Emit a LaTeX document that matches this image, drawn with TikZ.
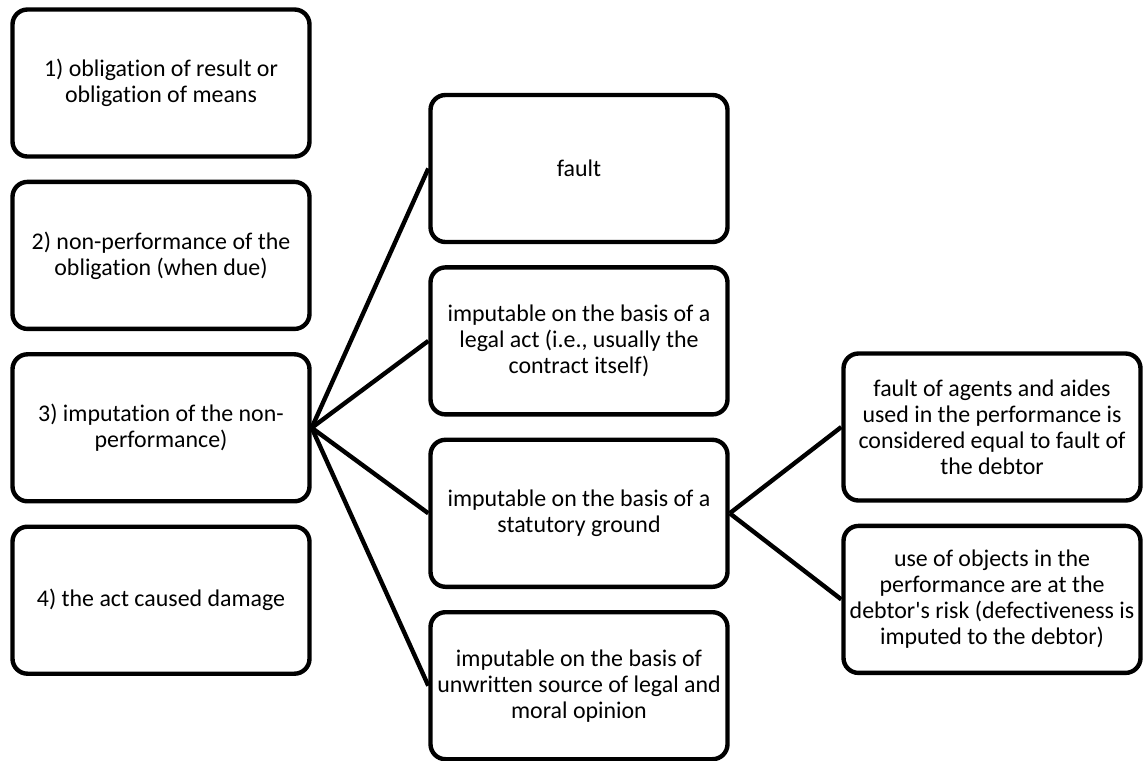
\documentclass[tikz,border=0pt]{standalone}
\usepackage{fontspec}
\setmainfont{Carlito}[Ligatures=NoCommon]
\usepackage{tikz}
\usetikzlibrary{positioning}

\begin{document}
\begin{tikzpicture}
[baseshape/.style={minimum width=5.94cm, minimum height=2.94cm, text centered, align=center, font=\fontsize{13.6}{14.8}\selectfont, draw=black, line width=2.5pt},
condbox/.style={baseshape, rectangle, rounded corners=0.3cm},
link/.style={line width=2.5pt},
node distance=0.42cm]

    \useasboundingbox (0,0) rectangle (22.9,-15.2);

    % conditions of liability
    \node (cond1) [condbox] at (3.22,-1.66) {1) obligation of result or\\obligation of means};
    \node (cond2) [condbox, below=of cond1] {2) non-performance of the\\obligation (when due)};
    \node (cond3) [condbox, below=of cond2] {3) imputation of the non-\\performance)};
    \node (cond4) [condbox, below=of cond3] {4) the act caused damage};

    % grounds of imputation
    \node (imp1) [condbox] at (11.58,-3.37) {fault};
    \node (imp2) [condbox, below=of imp1] {imputable on the basis of a\\legal act (i.e., usually the\\contract itself)};
    \node (imp3) [condbox, below=of imp2] {imputable on the basis of a\\statutory ground};
    \node (imp4) [condbox, below=of imp3] {imputable on the basis of\\unwritten source of legal and\\moral opinion};

    % statutory grounds
    \node (stat1) [condbox] at (19.84,-8.54) {fault of agents and aides\\used in the performance is\\considered equal to fault of\\the debtor};
    \node (stat2) [condbox, below=of stat1] {use of objects in the\\performance are at the\\debtor\textquotesingle s risk (defectiveness is\\imputed to the debtor)};

    \draw[link] (cond3.east) -- (imp1.west);
    \draw[link] (cond3.east) -- (imp2.west);
    \draw[link] (cond3.east) -- (imp3.west);
    \draw[link] (cond3.east) -- (imp4.west);
    \draw[link] (imp3.east) -- (stat1.west);
    \draw[link] (imp3.east) -- (stat2.west);
\end{tikzpicture}
\end{document}
